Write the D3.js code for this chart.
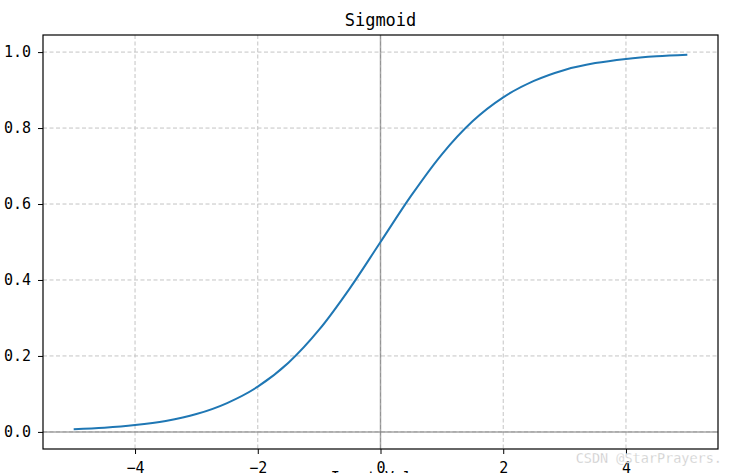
<!DOCTYPE html>
<html>
<head>
<meta charset="utf-8">
<script src="https://cdn.jsdelivr.net/npm/d3@7"></script>
<style>
  body { margin: 0; background: #fff; overflow: hidden; }
  text { font-family: "DejaVu Sans Mono", monospace; }
</style>
</head>
<body>
<div id="chart"></div>
<script>
// values
const xValues = [-5, -4.5, -4, -3.5, -3, -2.5, -2, -1.5, -1, -0.5, 0, 0.5, 1, 1.5, 2, 2.5, 3, 3.5, 4, 4.5, 5];
const yValues = [0.007, 0.011, 0.018, 0.029, 0.047, 0.076, 0.119, 0.182, 0.269, 0.378, 0.5,
                 0.622, 0.731, 0.818, 0.881, 0.924, 0.953, 0.971, 0.982, 0.989, 0.993];
const xTicks = [-4, -2, 0, 2, 4];
const yTicks = [0, 0.2, 0.4, 0.6, 0.8, 1.0];
const title = "Sigmoid";
const xLabel = "Input Value";

const width = 735, height = 473;
const margin = { left: 43, right: 17, top: 35, bottom: 24 };

const svg = d3.select("#chart").append("svg").attr("width", width).attr("height", height);

const x = d3.scaleLinear().domain([-5.5, 5.5]).range([margin.left, width - margin.right]);
const y = d3.scaleLinear().domain([-0.045, 1.045]).range([height - margin.bottom, margin.top]);

// grid
svg.append("g").selectAll("line").data(xTicks).enter().append("line")
  .attr("x1", d => x(d)).attr("x2", d => x(d))
  .attr("y1", y.range()[1]).attr("y2", y.range()[0])
  .attr("stroke", "#c4c4c4").attr("stroke-width", 1).attr("stroke-dasharray", "4,2.5");
svg.append("g").selectAll("line").data(yTicks).enter().append("line")
  .attr("y1", d => y(d)).attr("y2", d => y(d))
  .attr("x1", x.range()[0]).attr("x2", x.range()[1])
  .attr("stroke", "#c4c4c4").attr("stroke-width", 1).attr("stroke-dasharray", "4,2.5");

// zero lines
svg.append("line")
  .attr("x1", x(0)).attr("x2", x(0)).attr("y1", y.range()[1]).attr("y2", y.range()[0])
  .attr("stroke", "#808080").attr("stroke-opacity", 0.7).attr("stroke-width", 1.5);
svg.append("line")
  .attr("y1", y(0)).attr("y2", y(0)).attr("x1", x.range()[0]).attr("x2", x.range()[1])
  .attr("stroke", "#808080").attr("stroke-opacity", 0.7).attr("stroke-width", 1.5);

// curve
const pts = xValues.map((v, i) => [v, yValues[i]]);
svg.append("path").datum(pts)
  .attr("fill", "none").attr("stroke", "#1f77b4").attr("stroke-width", 2)
  .attr("d", d3.line().x(d => x(d[0])).y(d => y(d[1])).curve(d3.curveMonotoneX));

// axes
const xAxis = svg.append("g").attr("transform", `translate(0,${y.range()[0]})`)
  .call(d3.axisBottom(x).tickValues(xTicks).tickSize(5).tickPadding(8).tickFormat(d => d < 0 ? "\u2212" + Math.abs(d) : d));
const yAxis = svg.append("g").attr("transform", `translate(${x.range()[0]},0)`)
  .call(d3.axisLeft(y).tickValues(yTicks).tickSize(5).tickPadding(7).tickFormat(d3.format(".1f")));
[xAxis, yAxis].forEach(g => {
  g.select(".domain").remove();
  g.selectAll("line").attr("stroke", "#000").attr("stroke-width", 1);
  g.selectAll("text").attr("fill", "#000").attr("font-size", 15)
    .attr("font-family", "'DejaVu Sans Mono', monospace");
});

// frame
svg.append("rect")
  .attr("x", x.range()[0]).attr("y", y.range()[1])
  .attr("width", x.range()[1] - x.range()[0]).attr("height", y.range()[0] - y.range()[1])
  .attr("fill", "none").attr("stroke", "#000").attr("stroke-width", 1.2);

// title & label (label sits mostly below the visible area, as in the reference)
svg.append("text").attr("x", x(0)).attr("y", 26).attr("text-anchor", "middle")
  .attr("font-size", 17).text(title);
svg.append("text").attr("x", x(0)).attr("y", 483).attr("text-anchor", "middle")
  .attr("font-size", 15).text(xLabel);

// watermark
svg.append("text").attr("x", 722).attr("y", 463).attr("text-anchor", "end")
  .attr("font-family", "'DejaVu Sans', sans-serif").attr("font-size", 13.5)
  .attr("fill", "#c8c8c8").attr("stroke", "#fff").attr("stroke-width", 0.3).text("CSDN @StarPrayers.");
</script>
</body>
</html>
